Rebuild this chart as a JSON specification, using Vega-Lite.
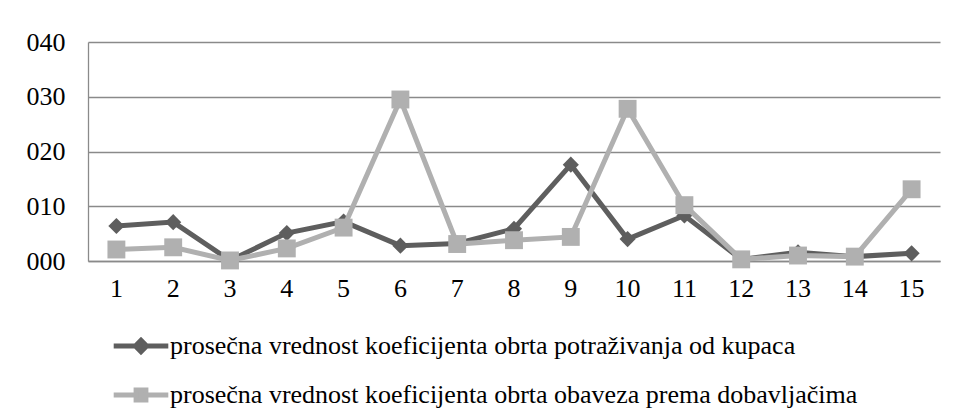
{
  "$schema": "https://vega.github.io/schema/vega-lite/v6.json",
  "autosize": {"type": "none"},
  "width": 852,
  "height": 219,
  "padding": {"left": 88, "top": 42, "right": 19, "bottom": 159},
  "background": "white",
  "config": {
    "view": {"stroke": null}
  },
  "data": {"values": [
    {"n": "1", "s": "prosečna vrednost koeficijenta obrta potraživanja od kupaca", "v": 6.4},
    {"n": "2", "s": "prosečna vrednost koeficijenta obrta potraživanja od kupaca", "v": 7.1},
    {"n": "3", "s": "prosečna vrednost koeficijenta obrta potraživanja od kupaca", "v": 0.1},
    {"n": "4", "s": "prosečna vrednost koeficijenta obrta potraživanja od kupaca", "v": 5.1},
    {"n": "5", "s": "prosečna vrednost koeficijenta obrta potraživanja od kupaca", "v": 7.2},
    {"n": "6", "s": "prosečna vrednost koeficijenta obrta potraživanja od kupaca", "v": 2.8},
    {"n": "7", "s": "prosečna vrednost koeficijenta obrta potraživanja od kupaca", "v": 3.2},
    {"n": "8", "s": "prosečna vrednost koeficijenta obrta potraživanja od kupaca", "v": 5.9},
    {"n": "9", "s": "prosečna vrednost koeficijenta obrta potraživanja od kupaca", "v": 17.6},
    {"n": "10", "s": "prosečna vrednost koeficijenta obrta potraživanja od kupaca", "v": 4.0},
    {"n": "11", "s": "prosečna vrednost koeficijenta obrta potraživanja od kupaca", "v": 8.3},
    {"n": "12", "s": "prosečna vrednost koeficijenta obrta potraživanja od kupaca", "v": 0.3},
    {"n": "13", "s": "prosečna vrednost koeficijenta obrta potraživanja od kupaca", "v": 1.6},
    {"n": "14", "s": "prosečna vrednost koeficijenta obrta potraživanja od kupaca", "v": 0.8},
    {"n": "15", "s": "prosečna vrednost koeficijenta obrta potraživanja od kupaca", "v": 1.4},
    {"n": "1", "s": "prosečna vrednost koeficijenta obrta obaveza prema dobavljačima", "v": 2.1},
    {"n": "2", "s": "prosečna vrednost koeficijenta obrta obaveza prema dobavljačima", "v": 2.5},
    {"n": "3", "s": "prosečna vrednost koeficijenta obrta obaveza prema dobavljačima", "v": 0.1},
    {"n": "4", "s": "prosečna vrednost koeficijenta obrta obaveza prema dobavljačima", "v": 2.3},
    {"n": "5", "s": "prosečna vrednost koeficijenta obrta obaveza prema dobavljačima", "v": 6.1},
    {"n": "6", "s": "prosečna vrednost koeficijenta obrta obaveza prema dobavljačima", "v": 29.5},
    {"n": "7", "s": "prosečna vrednost koeficijenta obrta obaveza prema dobavljačima", "v": 3.1},
    {"n": "8", "s": "prosečna vrednost koeficijenta obrta obaveza prema dobavljačima", "v": 3.8},
    {"n": "9", "s": "prosečna vrednost koeficijenta obrta obaveza prema dobavljačima", "v": 4.4},
    {"n": "10", "s": "prosečna vrednost koeficijenta obrta obaveza prema dobavljačima", "v": 27.8},
    {"n": "11", "s": "prosečna vrednost koeficijenta obrta obaveza prema dobavljačima", "v": 10.2},
    {"n": "12", "s": "prosečna vrednost koeficijenta obrta obaveza prema dobavljačima", "v": 0.3},
    {"n": "13", "s": "prosečna vrednost koeficijenta obrta obaveza prema dobavljačima", "v": 1.0},
    {"n": "14", "s": "prosečna vrednost koeficijenta obrta obaveza prema dobavljačima", "v": 0.8},
    {"n": "15", "s": "prosečna vrednost koeficijenta obrta obaveza prema dobavljačima", "v": 13.1}
  ]},
  "encoding": {
    "x": {
      "field": "n", "type": "ordinal", "sort": null,
      "scale": {"type": "band", "paddingInner": 0, "paddingOuter": 0},
      "axis": {
        "title": null, "labelAngle": 0, "ticks": false, "domainColor": "#8a8a8a", "domainWidth": 1.3,
        "labelFont": "Liberation Serif", "labelFontSize": 26, "labelColor": "#000", "labelPadding": 14, "grid": false
      }
    },
    "y": {
      "field": "v", "type": "quantitative",
      "scale": {"domain": [0, 40], "nice": false, "zero": true},
      "axis": {
        "title": null, "values": [0, 10, 20, 30, 40], "format": "03d", "ticks": false,
        "domain": true, "domainColor": "#8a8a8a", "domainWidth": 1.3,
        "grid": true, "gridColor": "#8a8a8a", "gridWidth": 1.3,
        "labelFont": "Liberation Serif", "labelFontSize": 26, "labelColor": "#000", "labelPadding": 23
      }
    },
    "color": {
      "field": "s", "type": "nominal",
      "scale": {
        "domain": ["prosečna vrednost koeficijenta obrta potraživanja od kupaca", "prosečna vrednost koeficijenta obrta obaveza prema dobavljačima"],
        "range": ["#5e5e5e", "#b0b0b0"]
      },
      "legend": {
        "orient": "none", "legendX": 40, "legendY": 291, "title": null, "direction": "vertical",
        "labelFont": "Liberation Serif", "labelFontSize": 26, "labelColor": "#000", "labelLimit": 0,
        "rowPadding": 18, "symbolSize": 196, "labelOffset": 16, "padding": 0,
        "encode": {"symbols": {"update": {
          "shape": {"signal": "datum.value === 'prosečna vrednost koeficijenta obrta potraživanja od kupaca' ? 'M-3.9,0H-0.8M0.8,0H3.9M-0.8,0L0,-0.8L0.8,0L0,0.8Z' : 'M-3.9,0H-0.7M0.7,0H3.9M-0.7,-0.7H0.7V0.7H-0.7Z'"},
          "fill": {"scale": "color", "field": "value"},
          "stroke": {"scale": "color", "field": "value"},
          "strokeWidth": {"value": 5},
          "opacity": {"value": 1}
        }}}
      }
    }
  },
  "layer": [
    {
      "transform": [{"filter": "datum.s === 'prosečna vrednost koeficijenta obrta potraživanja od kupaca'"}],
      "mark": {"type": "line", "strokeWidth": 5}
    },
    {
      "transform": [{"filter": "datum.s === 'prosečna vrednost koeficijenta obrta potraživanja od kupaca'"}],
      "mark": {"type": "point", "shape": "diamond", "filled": true, "size": 260, "opacity": 1}
    },
    {
      "transform": [{"filter": "datum.s === 'prosečna vrednost koeficijenta obrta obaveza prema dobavljačima'"}],
      "mark": {"type": "line", "strokeWidth": 5}
    },
    {
      "transform": [{"filter": "datum.s === 'prosečna vrednost koeficijenta obrta obaveza prema dobavljačima'"}],
      "mark": {"type": "point", "shape": "square", "filled": true, "size": 320, "opacity": 1}
    }
  ]
}
